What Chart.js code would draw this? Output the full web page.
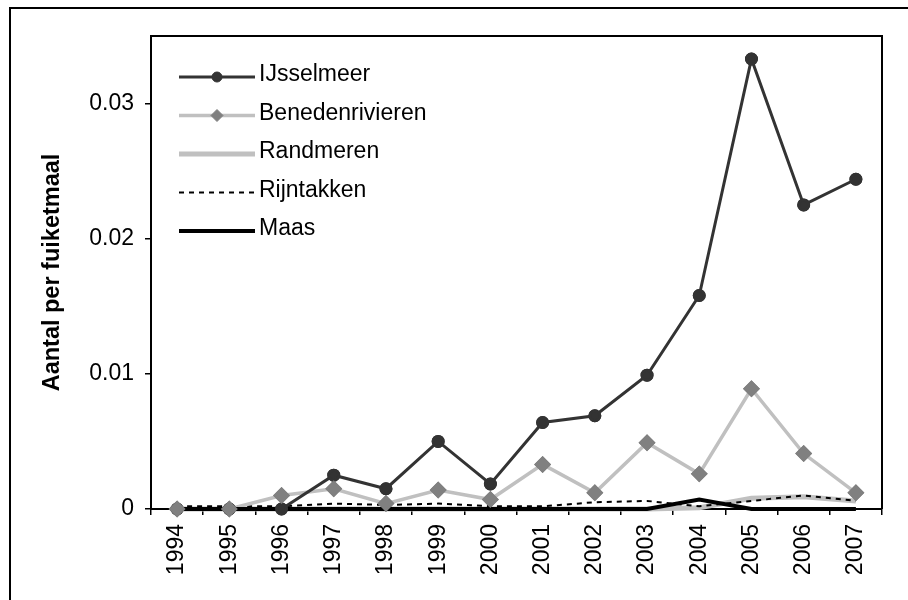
<!DOCTYPE html>
<html>
<head>
<meta charset="utf-8">
<script src="https://cdn.jsdelivr.net/npm/chart.js@4.4.0/dist/chart.umd.min.js"></script>
<style>
  body { margin: 0; background: #fff; }
  canvas { display: block; }
</style>
</head>
<body>
<canvas id="chart" width="908" height="600"></canvas>
<script>
const years = ['1994', '1995', '1996', '1997', '1998', '1999', '2000',
               '2001', '2002', '2003', '2004', '2005', '2006', '2007'];

const ijsselmeer = [0, 0, 0, 0.0025, 0.0015, 0.005, 0.00185, 0.0064, 0.0069, 0.0099, 0.0158, 0.0333, 0.0225, 0.0244];
const benedenrivieren = [0, 0, 0.001, 0.0015, 0.0004, 0.0014, 0.0007, 0.0033, 0.0012, 0.0049, 0.0026, 0.0089, 0.0041, 0.0012];
const randmeren = [0, 0, 0, 0, 0, 0, 0, 0, 0, 0, 0.0001, 0.0008, 0.0009, 0.0006];
const rijntakken = [0.0002, 0.0002, 0.0002, 0.0004, 0.0003, 0.0004, 0.0002, 0.0002, 0.0005, 0.0006, 0.0002, 0.0006, 0.001, 0.0006];
const maas = [0, 0, 0, 0, 0, 0, 0, 0, 0, 0, 0.0007, 0, 0, 0];

const yTicks = [0, 0.01, 0.02, 0.03];

const FONT = "'Liberation Sans', Arial, sans-serif";

// frame round the whole picture + box round the plot area
const framePlugin = {
    id: 'frame',
    afterDraw(chart) {
        let ctx = chart.ctx;
        let a = chart.chartArea;
        ctx.save();
        ctx.strokeStyle = '#000';
        ctx.lineWidth = 2;
        ctx.beginPath();
        ctx.moveTo(10, 600);
        ctx.lineTo(10, 8);
        ctx.lineTo(908, 8);
        ctx.stroke();
        ctx.beginPath();
        ctx.moveTo(a.left, a.top);
        ctx.lineTo(a.right, a.top);
        ctx.lineTo(a.right, a.bottom);
        ctx.stroke();
        ctx.restore();
    }
};

// markers on top of every line (as excel does it)
const markersOnTop = {
    id: 'markersOnTop',
    afterDatasetsDraw(chart) {
        chart.data.datasets.forEach((ds, i) => {
            if (!ds.pointRadius) return;
            chart.getDatasetMeta(i).data.forEach(pt => pt.draw(chart.ctx));
        });
    }
};

// legend inside the plot, line sample + marker
const insideLegend = {
    id: 'insideLegend',
    afterDraw(chart) {
        let ctx = chart.ctx;
        let x0 = 179, x1 = 255, textX = 259;
        let rowY = 77, rowGap = 38.5;
        ctx.save();
        chart.data.datasets.forEach((ds, i) => {
            let y = rowY + i * rowGap;
            ctx.beginPath();
            ctx.strokeStyle = ds.borderColor;
            ctx.lineWidth = ds.borderWidth;
            ctx.setLineDash(ds.borderDash || []);
            ctx.moveTo(x0, y);
            ctx.lineTo(x1, y);
            ctx.stroke();
            ctx.setLineDash([]);
            if (ds.pointRadius) {
                ctx.fillStyle = ds.pointBackgroundColor;
                ctx.strokeStyle = ds.pointBorderColor;
                ctx.lineWidth = 1;
                Chart.helpers.drawPoint(ctx, {
                    pointStyle: ds.pointStyle,
                    radius: ds.pointRadius,
                    rotation: 0,
                    borderWidth: 1
                }, (x0 + x1) / 2, y);
            }
            ctx.fillStyle = '#000';
            ctx.font = '23px ' + FONT;
            ctx.textBaseline = 'middle';
            ctx.textAlign = 'left';
            ctx.fillText(ds.label, textX, y - 2);
        });
        ctx.restore();
    }
};

new Chart(document.getElementById('chart'), {
    type: 'line',
    data: {
        labels: years,
        datasets: [
            {
                label: 'IJsselmeer', data: ijsselmeer,
                borderColor: '#333333', borderWidth: 3,
                pointStyle: 'circle', pointRadius: 5,
                pointBackgroundColor: '#333333', pointBorderColor: '#333333',
                order: 1
            },
            {
                label: 'Benedenrivieren', data: benedenrivieren,
                borderColor: '#c0c0c0', borderWidth: 3.5,
                pointStyle: 'rectRot', pointRadius: 6,
                pointBackgroundColor: '#808080', pointBorderColor: '#808080',
                order: 2
            },
            {
                label: 'Randmeren', data: randmeren,
                borderColor: '#c0c0c0', borderWidth: 5,
                pointRadius: 0,
                order: 4
            },
            {
                label: 'Rijntakken', data: rijntakken,
                borderColor: '#000000', borderWidth: 2, borderDash: [5, 5],
                pointRadius: 0,
                order: 3
            },
            {
                label: 'Maas', data: maas,
                borderColor: '#000000', borderWidth: 4,
                pointRadius: 0,
                order: 0
            }
        ]
    },
    options: {
        responsive: false,
        animation: false,
        events: [],
        clip: false,
        layout: { padding: { left: 0, top: 36, right: 26, bottom: 0 } },
        elements: { line: { tension: 0 } },
        plugins: {
            legend: { display: false },
            tooltip: { enabled: false }
        },
        scales: {
            x: {
                type: 'category',
                offset: true,
                grid: {
                    offset: true, drawOnChartArea: false,
                    tickLength: 6, color: '#000', lineWidth: 1.5
                },
                border: { display: true, color: '#000', width: 2 },
                ticks: {
                    color: '#000', font: { family: FONT, size: 23 },
                    minRotation: 90, maxRotation: 90, padding: 9,
                    autoSkip: false
                },
                afterFit(axis) { axis.height = 91; }
            },
            y: {
                min: 0, max: 0.035,
                grid: {
                    drawOnChartArea: false,
                    tickLength: 6, color: '#000', lineWidth: 1.5
                },
                border: { display: true, color: '#000', width: 2 },
                ticks: {
                    color: '#000', font: { family: FONT, size: 23 },
                    padding: 11,
                    callback: v => String(Number(v.toFixed(2)))
                },
                afterBuildTicks(axis) {
                    axis.ticks = yTicks.map(v => ({ value: v }));
                },
                title: {
                    display: true,
                    text: 'Aantal per fuiketmaal',
                    color: '#000',
                    font: { family: FONT, size: 23.5, weight: 'bold' },
                    padding: { top: 38, bottom: 0 }
                },
                afterFit(axis) { axis.width = 151; }
            }
        }
    },
    plugins: [framePlugin, markersOnTop, insideLegend]
});
</script>
</body>
</html>
